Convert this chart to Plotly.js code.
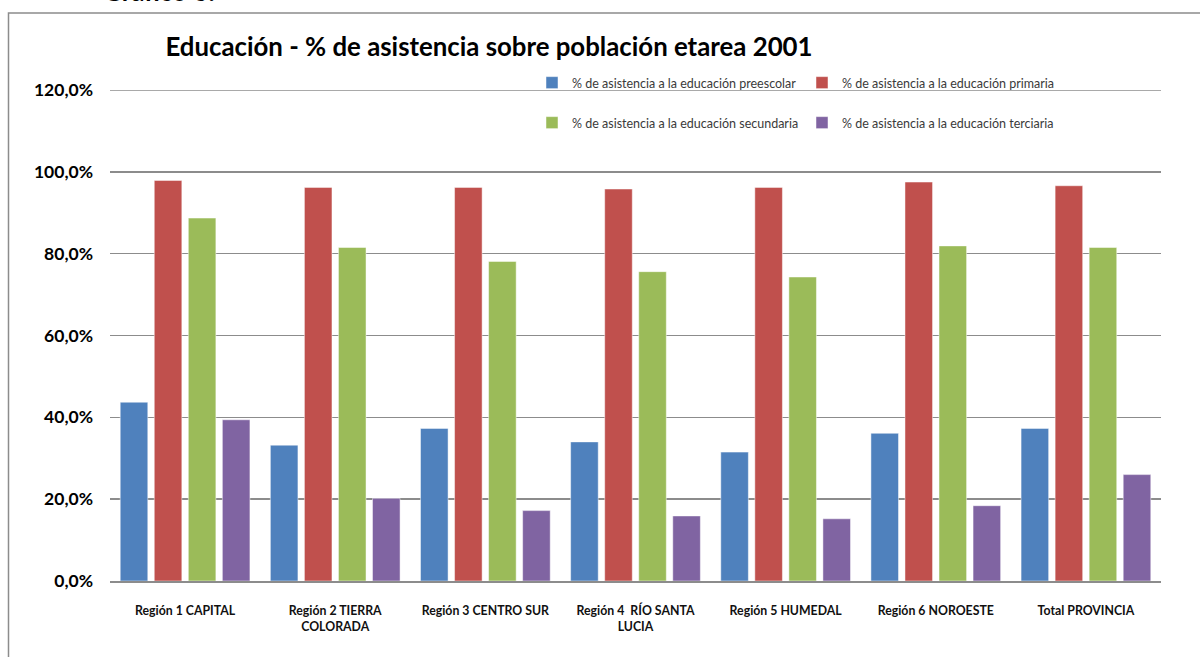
<!DOCTYPE html>
<html>
<head>
<meta charset="utf-8">
<script src="https://cdn.plot.ly/plotly-3.0.1.min.js"></script>
<style>
html,body{margin:0;padding:0;background:#fff;}
#chart{width:1200px;height:657px;}
</style>
</head>
<body>
<div id="chart"></div>
<script>
const categories = [
  "Región 1 CAPITAL",
  "Región 2 TIERRA<br>COLORADA",
  "Región 3 CENTRO SUR",
  "Región 4  RÍO SANTA<br>LUCIA",
  "Región 5 HUMEDAL",
  "Región 6 NOROESTE",
  "Total PROVINCIA"
];
const seriesNames = [
  "% de asistencia a la educación preescolar",
  "% de asistencia a la educación primaria",
  "% de asistencia a la educación secundaria",
  "% de asistencia a la educación terciaria"
];
const preescolar = [0.437, 0.332, 0.373, 0.340, 0.315, 0.361, 0.373];
const primaria   = [0.979, 0.962, 0.962, 0.958, 0.962, 0.975, 0.966];
const secundaria = [0.887, 0.815, 0.781, 0.756, 0.743, 0.819, 0.815];
const terciaria  = [0.394, 0.202, 0.172, 0.159, 0.152, 0.184, 0.260];
const yTicks = [0, 0.2, 0.4, 0.6, 0.8, 1.0, 1.2];

const colors = ["#4F81BD", "#C0504D", "#9BBB59", "#8064A2"];
const values = [preescolar, primaria, secundaria, terciaria];
const legends = ["legend", "legend", "legend2", "legend2"];

const FONT = "Lato, 'Open Sans', 'DejaVu Sans', sans-serif";

const traces = values.map((v, i) => ({
  type: "bar",
  name: seriesNames[i],
  x: categories,
  y: v,
  legend: legends[i],
  marker: {color: colors[i], line: {color: "rgba(255,255,255,0.6)", width: 0.8}},
  hoverinfo: "x+y"
}));

// pixel helpers for the plot area: l=110, r=1161, top=90, bottom=581
const PL = 110, PR = 1161, PT = 90, PB = 581;
const px = x => (x - PL) / (PR - PL);
const py = y => (PB - y) / (PB - PT);

const legendCommon = {
  orientation: "h",
  xanchor: "left",
  yanchor: "middle",
  bgcolor: "rgba(0,0,0,0)",
  entrywidth: 225,
  entrywidthmode: "pixels",
  itemclick: false,
  font: {family: FONT, size: 12.5, color: "#3a3a3a"}
};

const layout = {
  width: 1200,
  height: 657,
  margin: {l: PL, r: 1200 - PR, t: PT, b: 657 - PB, pad: 0},
  paper_bgcolor: "#ffffff",
  plot_bgcolor: "#ffffff",
  separators: ",.",
  font: {family: FONT, color: "#000"},
  barmode: "group",
  bargap: 0.093,
  bargroupgap: 0.19,
  title: {
    text: "<b>Educación - % de asistencia sobre población etarea 2001</b>",
    font: {family: FONT, size: 25.8, color: "#000"},
    x: 489 / 1200,
    xanchor: "center",
    xref: "container",
    y: 1 - 47 / 657,
    yanchor: "middle",
    yref: "container"
  },
  xaxis: {
    type: "category",
    showgrid: false,
    showline: true,
    linecolor: "#8c8c8c",
    linewidth: 1.6,
    ticks: "",
    tickfont: {family: FONT, size: 12.3, color: "#111", weight: "bold"},
    ticklabelstandoff: 18,
    fixedrange: true
  },
  yaxis: {
    range: [0, 1.2],
    tickvals: yTicks,
    tickformat: ".1%",
    showgrid: true,
    gridcolor: "#8c8c8c",
    gridwidth: 1.6,
    zeroline: false,
    showline: false,
    ticks: "",
    tickfont: {family: FONT, size: 17.5, color: "#000", weight: "bold"},
    ticklabelstandoff: 16,
    fixedrange: true
  },
  legend: Object.assign({}, legendCommon, {x: px(532), y: py(83)}),
  legend2: Object.assign({}, legendCommon, {x: px(532), y: py(123)}),
  shapes: [{
    type: "rect",
    xref: "paper", yref: "paper",
    x0: px(8.5), x1: px(1260),
    y0: py(720), y1: py(13),
    line: {color: "#8c8c8c", width: 1.5},
    fillcolor: "rgba(0,0,0,0)",
    layer: "below"
  }, {
    type: "line",
    xref: "paper", yref: "y",
    x0: 0, x1: 1,
    y0: yTicks[yTicks.length - 1], y1: yTicks[yTicks.length - 1],
    line: {color: "#8c8c8c", width: 1.6},
    layer: "below"
  }],
  annotations: [{
    text: "<b>Gráfico 6.</b>",
    xref: "paper", yref: "paper",
    x: px(101), xanchor: "left",
    y: py(9), yanchor: "bottom",
    showarrow: false,
    font: {family: FONT, size: 26, color: "#000"}
  }]
};

Plotly.newPlot("chart", traces, layout, {displayModeBar: false, staticPlot: true});
</script>
</body>
</html>
